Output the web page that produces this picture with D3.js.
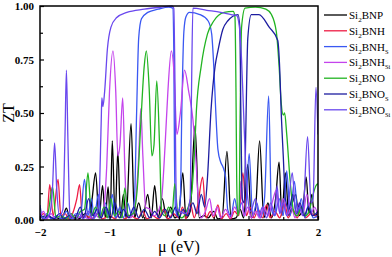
<!DOCTYPE html>
<head>
    <meta charset="utf-8">
    <title>ZT vs mu</title>
    <script src="https://d3js.org/d3.v7.min.js"></script>
    <style>
        body { margin: 0; background: #fff; }
        text { font-family: "Liberation Serif", "Times New Roman", serif; }
    </style>
</head>

<body>
    <svg width="392" height="257"></svg>
    <script>
        // [mu (eV), ZT]
        var bnp = [[-2.0,0.01],[-1.9,0.02],[-1.8,0.005],[-1.68,0.01],[-1.62,0.055],[-1.57,0.005],[-1.5,0.02],[-1.44,0.005],[-1.35,0.03],[-1.29,0.005],[-1.25,0.1],[-1.2,0.22],[-1.15,0.01],[-1.1,0.16],[-1.06,0.01],[-1.02,0.155],[-0.99,0.01],[-0.96,0.37],[-0.92,0.01],[-0.88,0.32],[-0.84,0.01],[-0.8,0.12],[-0.76,0.01],[-0.69,0.45],[-0.64,0.01],[-0.58,0.08],[-0.52,0.01],[-0.45,0.12],[-0.4,0.01],[-0.35,0.16],[-0.3,0.01],[-0.24,0.1],[-0.18,0.01],[-0.12,0.06],[-0.06,0.01],[0.0,0.04],[0.055,0.22],[0.1,0.01],[0.16,0.04],[0.23,0.44],[0.29,0.01],[0.36,0.02],[0.42,0.01],[0.5,0.04],[0.56,0.005],[0.62,0.01],[0.69,0.32],[0.75,0.005],[0.82,0.01],[0.88,0.05],[0.93,0.01],[0.99,0.26],[1.04,0.01],[1.1,0.05],[1.16,0.37],[1.22,0.01],[1.28,0.08],[1.33,0.01],[1.39,0.1],[1.44,0.27],[1.48,0.02],[1.53,0.22],[1.58,0.02],[1.63,0.08],[1.68,0.12],[1.72,0.02],[1.78,0.05],[1.83,0.2],[1.87,0.03],[1.91,0.12],[1.95,0.02],[2.0,0.03]];

        var bnh = [[-2.0,0.01],[-1.95,0.03],[-1.9,0.01],[-1.86,0.165],[-1.81,0.02],[-1.74,0.19],[-1.7,0.02],[-1.64,0.03],[-1.58,0.005],[-1.52,0.04],[-1.47,0.1],[-1.43,0.165],[-1.39,0.01],[-1.33,0.02],[-1.26,0.005],[-1.18,0.03],[-1.1,0.005],[-1.0,0.02],[-0.92,0.005],[-0.85,0.03],[-0.78,0.005],[-0.7,0.02],[-0.6,0.005],[-0.52,0.04],[-0.46,0.005],[-0.38,0.02],[-0.3,0.005],[-0.22,0.05],[-0.16,0.005],[-0.08,0.03],[0.0,0.01],[0.05,0.06],[0.1,0.005],[0.16,0.08],[0.22,0.01],[0.27,0.07],[0.34,0.2],[0.39,0.01],[0.45,0.04],[0.5,0.01],[0.56,0.07],[0.61,0.005],[0.68,0.03],[0.74,0.005],[0.8,0.04],[0.86,0.02],[0.92,0.22],[0.97,0.02],[1.02,0.06],[1.08,0.01],[1.14,0.05],[1.2,0.01],[1.26,0.07],[1.31,0.01],[1.38,0.04],[1.45,0.01],[1.52,0.08],[1.57,0.01],[1.64,0.05],[1.7,0.01],[1.76,0.06],[1.82,0.01],[1.9,0.03],[2.0,0.01]];

        var bnhS = [[-2.0,0.07],[-1.96,0.01],[-1.9,0.03],[-1.84,0.005],[-1.76,0.02],[-1.7,0.005],[-1.62,0.04],[-1.56,0.005],[-1.48,0.03],[-1.42,0.01],[-1.36,0.19],[-1.31,0.02],[-1.26,0.1],[-1.22,0.01],[-1.16,0.12],[-1.12,0.01],[-1.06,0.08],[-1.01,0.01],[-0.96,0.12],[-0.91,0.01],[-0.85,0.06],[-0.8,0.01],[-0.74,0.08],[-0.68,0.02],[-0.64,0.1],[-0.61,0.5],[-0.58,0.85],[-0.54,0.94],[-0.45,0.97],[-0.3,0.985],[-0.15,0.995],[-0.09,0.99],[-0.075,0.8],[-0.065,0.3],[-0.05,0.05],[-0.02,0.02],[0.02,0.1],[0.04,0.5],[0.07,0.88],[0.1,0.95],[0.15,0.97],[0.3,0.96],[0.42,0.93],[0.47,0.87],[0.5,0.72],[0.53,0.5],[0.56,0.33],[0.6,0.27],[0.63,0.25],[0.67,0.2],[0.7,0.05],[0.75,0.02],[0.8,0.1],[0.85,0.03],[0.9,0.08],[0.95,0.02],[1.01,0.31],[1.06,0.02],[1.12,0.08],[1.17,0.01],[1.23,0.1],[1.29,0.58],[1.33,0.05],[1.38,0.02],[1.44,0.1],[1.5,0.02],[1.55,0.23],[1.6,0.02],[1.66,0.18],[1.71,0.03],[1.76,0.1],[1.81,0.01],[1.87,0.08],[1.93,0.01],[2.0,0.02]];

        var bnhSi = [[-2.0,0.01],[-1.95,0.04],[-1.9,0.005],[-1.84,0.03],[-1.78,0.005],[-1.7,0.02],[-1.62,0.005],[-1.55,0.03],[-1.48,0.005],[-1.4,0.02],[-1.3,0.005],[-1.22,0.03],[-1.15,0.01],[-1.09,0.04],[-1.04,0.25],[-1.0,0.6],[-0.95,0.79],[-0.91,0.6],[-0.88,0.3],[-0.85,0.35],[-0.81,0.57],[-0.78,0.25],[-0.75,0.04],[-0.7,0.01],[-0.64,0.05],[-0.58,0.3],[-0.55,0.52],[-0.52,0.3],[-0.48,0.06],[-0.42,0.05],[-0.36,0.02],[-0.3,0.04],[-0.25,0.1],[-0.2,0.35],[-0.16,0.6],[-0.11,0.79],[-0.07,0.68],[-0.03,0.4],[0.02,0.5],[0.08,0.7],[0.14,0.6],[0.2,0.47],[0.24,0.3],[0.28,0.08],[0.32,0.01],[0.38,0.04],[0.44,0.1],[0.49,0.02],[0.55,0.06],[0.6,0.01],[0.67,0.05],[0.74,0.01],[0.8,0.06],[0.86,0.03],[0.89,0.18],[0.93,0.02],[0.99,0.06],[1.04,0.01],[1.1,0.04],[1.16,0.01],[1.22,0.06],[1.28,0.02],[1.34,0.08],[1.4,0.14],[1.45,0.03],[1.5,0.1],[1.55,0.02],[1.62,0.06],[1.67,0.01],[1.73,0.08],[1.78,0.02],[1.84,0.12],[1.9,0.03],[1.95,0.06],[2.0,0.02]];

        var bno = [[-2.0,0.02],[-1.94,0.005],[-1.88,0.04],[-1.82,0.155],[-1.77,0.01],[-1.7,0.02],[-1.62,0.005],[-1.55,0.03],[-1.49,0.005],[-1.42,0.04],[-1.36,0.05],[-1.31,0.22],[-1.26,0.02],[-1.2,0.06],[-1.14,0.01],[-1.08,0.06],[-1.03,0.01],[-0.98,0.1],[-0.93,0.02],[-0.87,0.04],[-0.82,0.01],[-0.78,0.15],[-0.73,0.02],[-0.66,0.03],[-0.6,0.15],[-0.55,0.45],[-0.5,0.72],[-0.47,0.79],[-0.43,0.62],[-0.39,0.3],[-0.36,0.35],[-0.32,0.65],[-0.28,0.35],[-0.25,0.04],[-0.2,0.02],[-0.15,0.06],[-0.1,0.03],[-0.06,0.17],[-0.02,0.04],[0.04,0.01],[0.12,0.05],[0.18,0.12],[0.22,0.3],[0.25,0.51],[0.32,0.72],[0.41,0.87],[0.5,0.93],[0.65,0.97],[0.78,0.975],[0.805,0.95],[0.82,0.6],[0.83,0.2],[0.845,0.02],[0.865,0.05],[0.88,0.5],[0.9,0.9],[0.95,0.99],[1.1,0.995],[1.25,0.985],[1.33,0.96],[1.4,0.88],[1.44,0.72],[1.47,0.55],[1.5,0.49],[1.52,0.5],[1.55,0.4],[1.6,0.18],[1.65,0.04],[1.7,0.02],[1.76,0.06],[1.82,0.02],[1.88,0.05],[1.93,0.12],[1.97,0.16],[2.0,0.17]];

        var bnoS = [[-2.0,0.03],[-1.95,0.005],[-1.88,0.02],[-1.8,0.005],[-1.72,0.03],[-1.66,0.005],[-1.58,0.02],[-1.5,0.005],[-1.42,0.06],[-1.37,0.01],[-1.3,0.1],[-1.24,0.02],[-1.18,0.05],[-1.12,0.01],[-1.05,0.06],[-0.98,0.01],[-0.92,0.08],[-0.86,0.01],[-0.8,0.05],[-0.72,0.01],[-0.65,0.06],[-0.58,0.01],[-0.5,0.05],[-0.42,0.01],[-0.35,0.04],[-0.28,0.01],[-0.2,0.05],[-0.12,0.01],[-0.05,0.06],[0.0,0.01],[0.06,0.05],[0.12,0.02],[0.2,0.08],[0.26,0.03],[0.32,0.12],[0.37,0.06],[0.41,0.2],[0.46,0.51],[0.52,0.72],[0.56,0.79],[0.63,0.89],[0.7,0.93],[0.85,0.96],[0.875,0.9],[0.89,0.5],[0.91,0.1],[0.94,0.08],[0.96,0.4],[0.99,0.85],[1.04,0.96],[1.15,0.96],[1.3,0.9],[1.42,0.84],[1.45,0.7],[1.47,0.51],[1.5,0.3],[1.53,0.1],[1.58,0.05],[1.64,0.12],[1.69,0.03],[1.74,0.08],[1.8,0.02],[1.86,0.06],[1.92,0.02],[2.0,0.04]];

        var bnoSi = [[-2.0,0.02],[-1.93,0.005],[-1.86,0.03],[-1.82,0.15],[-1.79,0.36],[-1.76,0.15],[-1.72,0.02],[-1.67,0.05],[-1.64,0.4],[-1.62,0.7],[-1.6,0.4],[-1.57,0.03],[-1.5,0.005],[-1.44,0.03],[-1.38,0.005],[-1.3,0.04],[-1.24,0.005],[-1.18,0.03],[-1.15,0.1],[-1.12,0.45],[-1.11,0.57],[-1.095,0.53],[-1.07,0.6],[-1.03,0.8],[-0.98,0.9],[-0.9,0.945],[-0.75,0.97],[-0.5,0.985],[-0.25,0.995],[-0.1,1.0],[-0.075,0.99],[-0.06,0.7],[-0.045,0.2],[-0.03,0.05],[0.1,0.03],[0.16,0.1],[0.18,0.6],[0.2,0.99],[0.4,0.98],[0.6,0.97],[0.75,0.96],[0.83,0.955],[0.87,0.9],[0.9,0.75],[0.93,0.5],[0.96,0.25],[0.99,0.1],[1.03,0.04],[1.1,0.1],[1.15,0.02],[1.2,0.06],[1.26,0.01],[1.32,0.08],[1.38,0.02],[1.41,0.16],[1.45,0.03],[1.5,0.08],[1.55,0.02],[1.63,0.22],[1.68,0.03],[1.73,0.06],[1.78,0.02],[1.85,0.39],[1.9,0.08],[1.93,0.1],[1.97,0.62],[2.0,0.4]];

        var names = [["Si", "2", "BNP", ""], ["Si", "2", "BNH", ""], ["Si", "2", "BNH", "S"], ["Si", "2", "BNH", "Si"],
                     ["Si", "2", "BNO", ""], ["Si", "2", "BNO", "S"], ["Si", "2", "BNO", "Si"]];
        var colors = ["#000000", "#ee1c44", "#3a58f2", "#c444ec", "#22b422", "#1c1ca0", "#6a48ee"];
        var series = [bnp, bnh, bnhS, bnhSi, bno, bnoS, bnoSi];

        var xTicks = [-2, -1, 0, 1, 2];
        var yTicks = [0, 0.25, 0.5, 0.75, 1];

        var svg = d3.select("svg");
        var mLeft = 40, mRight = 318, mTop = 6, mBottom = 220;

        var x = d3.scaleLinear().domain([-2, 2]).range([mLeft, mRight]);
        var y = d3.scaleLinear().domain([0, 1]).range([mBottom, mTop]);

        svg.append("clipPath").attr("id", "clip")
            .append("rect").attr("x", mLeft).attr("y", mTop - 1)
            .attr("width", mRight - mLeft).attr("height", mBottom - mTop + 1);

        var line = d3.line()
            .x(function (d) { return x(d[0]); })
            .y(function (d) { return y(d[1]); })
            .curve(d3.curveMonotoneX);

        var g = svg.append("g").attr("clip-path", "url(#clip)");
        series.forEach(function (s, i) {
            g.append("path")
                .attr("d", line(s))
                .attr("fill", "none")
                .attr("stroke", colors[i])
                .attr("stroke-width", 1.3);
        });

        // axes with inward ticks
        svg.append("g").attr("transform", "translate(0," + mBottom + ")")
            .call(d3.axisBottom(x).tickValues(xTicks).tickSize(-4).tickPadding(8).tickFormat(d3.format("d")));
        svg.append("g").attr("transform", "translate(0," + mBottom + ")")
            .call(d3.axisBottom(x).tickValues([-1.5, -0.5, 0.5, 1.5]).tickSize(-3).tickFormat(""));
        svg.append("g").attr("transform", "translate(" + mLeft + ",0)")
            .call(d3.axisLeft(y).tickValues(yTicks).tickSize(-4).tickPadding(6).tickFormat(d3.format(".2f")));
        svg.append("g").attr("transform", "translate(" + mLeft + ",0)")
            .call(d3.axisLeft(y).tickValues([0.125, 0.375, 0.625, 0.875]).tickSize(-3).tickFormat(""));

        svg.selectAll(".domain").remove();
        svg.selectAll(".tick line").attr("stroke", "#000").attr("stroke-width", 1.2);
        svg.selectAll(".tick text").attr("font-family", "Liberation Serif")
            .attr("font-weight", "bold").attr("font-size", 11).attr("fill", "#000");

        svg.append("rect")
            .attr("x", mLeft).attr("y", mTop)
            .attr("width", mRight - mLeft).attr("height", mBottom - mTop)
            .attr("fill", "none").attr("stroke", "#000").attr("stroke-width", 1.5);

        svg.append("text")
            .attr("transform", "translate(14," + ((mTop + mBottom) / 2) + ") rotate(-90)")
            .attr("text-anchor", "middle")
            .attr("font-size", 16)
            .text("ZT");

        svg.append("text")
            .attr("x", (mLeft + mRight) / 2).attr("y", 252)
            .attr("text-anchor", "middle")
            .attr("font-size", 16)
            .text("μ (eV)");

        // legend
        var leg = svg.append("g");
        names.forEach(function (n, i) {
            var ly = 15 + i * 15.8;
            leg.append("line")
                .attr("x1", 324).attr("x2", 347)
                .attr("y1", ly).attr("y2", ly)
                .attr("stroke", colors[i]).attr("stroke-width", 1.3);
            var t = leg.append("text").attr("x", 349).attr("y", ly + 4).attr("font-size", 11);
            t.append("tspan").text(n[0]);
            t.append("tspan").attr("font-size", 7).attr("dy", 3).text(n[1]);
            t.append("tspan").attr("dy", -3).text(n[2]);
            if (n[3]) t.append("tspan").attr("font-size", 6.5).attr("dy", 3).text(n[3]);
        });
    </script>
</body>
